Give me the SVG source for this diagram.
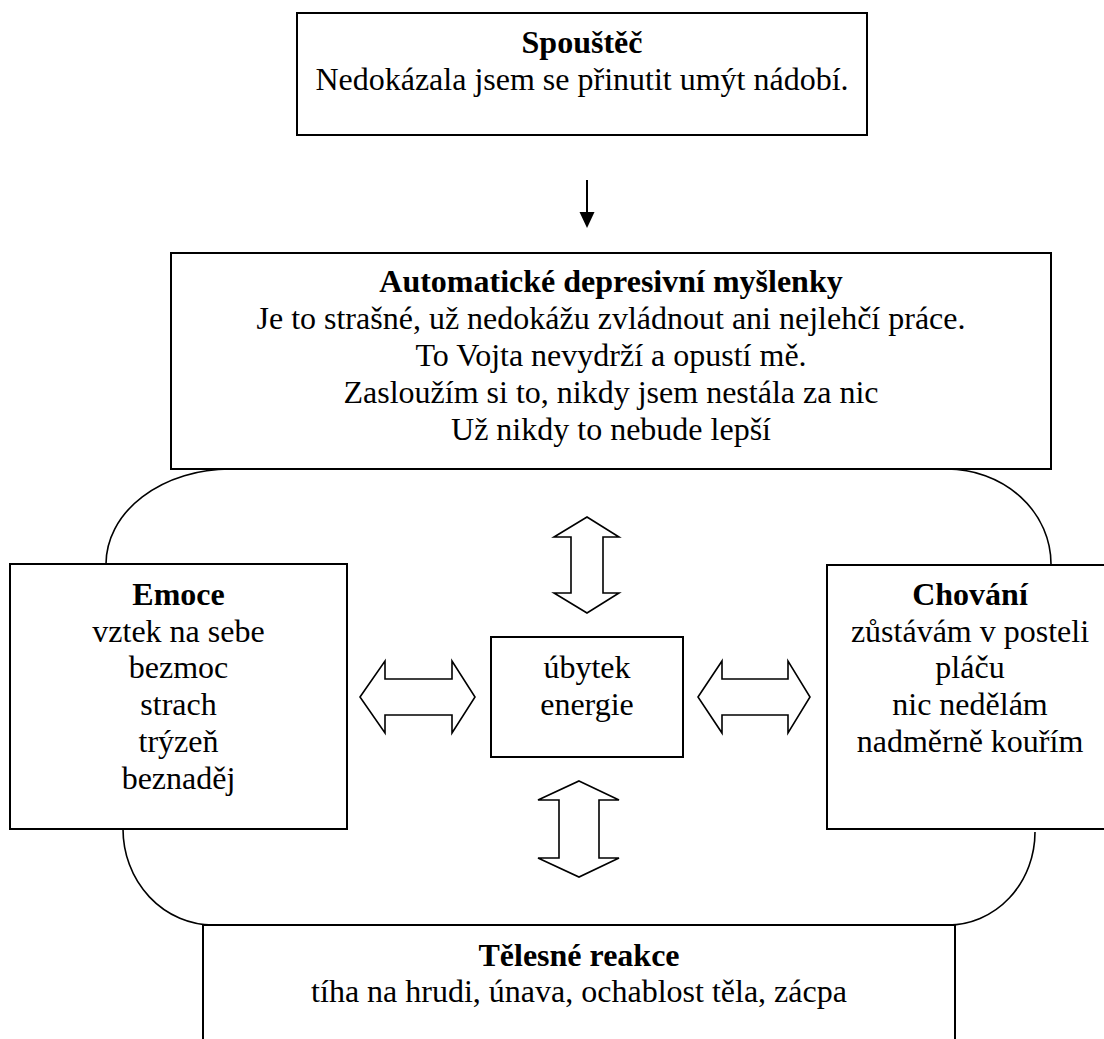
<svg xmlns="http://www.w3.org/2000/svg" width="1104" height="1039" viewBox="0 0 1104 1039">
<style>
.box{fill:#fff;stroke:#000;stroke-width:2}
.t{font-family:"Liberation Serif","Times New Roman",serif;font-size:32px;text-anchor:middle;fill:#000}
.b{font-weight:bold}
.curve{fill:none;stroke:#000;stroke-width:1.6}
.dbl{fill:#fff;stroke:#000;stroke-width:1.6;stroke-linejoin:miter}
</style>
<rect width="1104" height="1039" fill="#fff"/>
<g id="connectors">
<path class="curve" d="M230,469 A124,95 0 0 0 106,564"/>
<path class="curve" d="M947,469 A104,95 0 0 1 1051,564"/>
<path class="curve" d="M123,829 A90,96 0 0 0 213,925"/>
<path class="curve" d="M1035,832 A87,93 0 0 1 948,925"/>
<line x1="587" y1="180" x2="587" y2="214" stroke="#000" stroke-width="2"/>
<polygon points="587,228 579.5,212 594.5,212" fill="#000"/>
<polygon class="dbl" points="587,517 619,537 603,537 603,593 619,593 587,613 554,593 571,593 571,537 554,537"/>
<polygon class="dbl" points="579,781 619,800 599,800 599,858 619,858 579,877 538,858 559,858 559,800 538,800"/>
<polygon class="dbl" points="360,697 385,661 385,679 452,679 452,661 475,697 452,733 452,715 385,715 385,733"/>
<polygon class="dbl" points="698,697 722,661 722,679 788,679 788,661 810,697 788,733 788,715 722,715 722,733"/>
</g>
<g id="spoustec">
<rect class="box" x="297" y="13" width="570" height="122"/>
<text class="t b" x="582" y="53">Spouštěč</text>
<text class="t" x="582" y="90">Nedokázala jsem se přinutit umýt nádobí.</text>
</g>
<g id="myslenky">
<rect class="box" x="171" y="253" width="880" height="216"/>
<text class="t b" x="611" y="292">Automatické depresivní myšlenky</text>
<text class="t" x="611" y="329">Je to strašné, už nedokážu zvládnout ani nejlehčí práce.</text>
<text class="t" x="611" y="366">To Vojta nevydrží a opustí mě.</text>
<text class="t" x="611" y="403">Zasloužím si to, nikdy jsem nestála za nic</text>
<text class="t" x="611" y="440">Už nikdy to nebude lepší</text>
</g>
<g id="emoce">
<rect class="box" x="10" y="564" width="337" height="265"/>
<text class="t b" x="178.5" y="605">Emoce</text>
<text class="t" x="178.5" y="642">vztek na sebe</text>
<text class="t" x="178.5" y="678">bezmoc</text>
<text class="t" x="178.5" y="715">strach</text>
<text class="t" x="178.5" y="752">trýzeň</text>
<text class="t" x="178.5" y="789">beznaděj</text>
</g>
<g id="energie">
<rect class="box" x="491" y="637" width="192" height="120"/>
<text class="t" x="587" y="678">úbytek</text>
<text class="t" x="587" y="715">energie</text>
</g>
<g id="chovani">
<rect class="box" x="827" y="565" width="286" height="264"/>
<text class="t b" x="970" y="605">Chování</text>
<text class="t" x="970" y="642">zůstávám v posteli</text>
<text class="t" x="970" y="678">pláču</text>
<text class="t" x="970" y="715">nic nedělám</text>
<text class="t" x="970" y="752">nadměrně kouřím</text>
</g>
<g id="telesne">
<rect class="box" x="203" y="925" width="752" height="140"/>
<text class="t b" x="579" y="966">Tělesné reakce</text>
<text class="t" x="579" y="1002">tíha na hrudi, únava, ochablost těla, zácpa</text>
</g>
</svg>
